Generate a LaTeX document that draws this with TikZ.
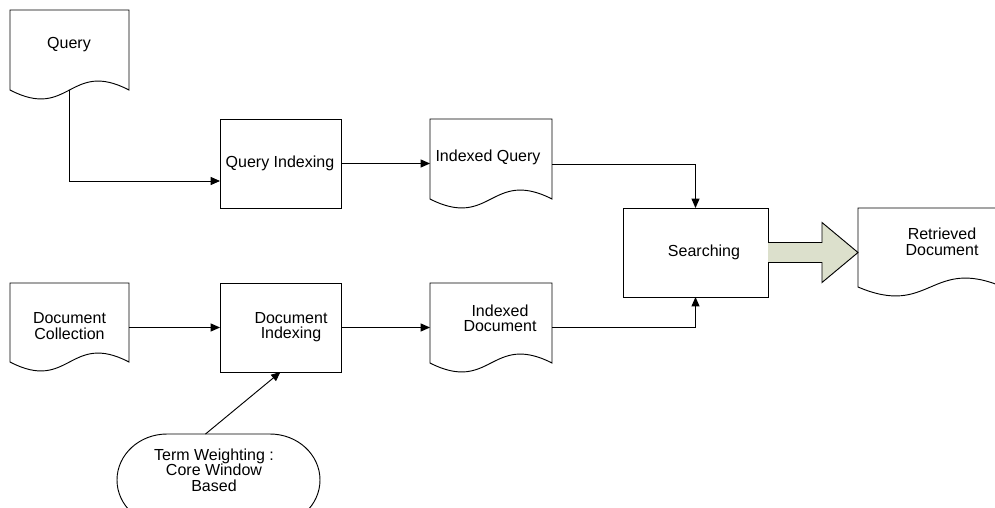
\documentclass[tikz,border=0pt]{standalone}
\usepackage{fontspec}
\setmainfont{Liberation Sans}
\usetikzlibrary{calc,arrows.meta}
\definecolor{arrowfill}{HTML}{DCE0CC}
\tikzset{
  line/.style={draw=black, line width=0.7pt},
  conn/.style={line, -{Triangle[length=7pt,width=6pt]}},
  area/.style={draw=none, inner sep=0, outer sep=0},
  txt/.style={font=\fontsize{12pt}{11.6pt}\selectfont, align=center, inner sep=0},
  boxshape/.style={line, fill=white, inner sep=0, outer sep=0},
}
\newcommand\docoutline[1]{%
  \draw[line, fill=white] (#1.north west) -- (#1.north east) -- (#1.south east)
    .. controls ($(#1.south)+(0,-31)$) and ($(#1.south)+(0,31)$) .. (#1.south west) -- cycle;}
\begin{document}
\begin{tikzpicture}[x=0.75pt, y=-0.75pt]
\useasboundingbox (0,0) rectangle (995,507);
\fill[white] (0,0) rectangle (995,507);
\clip (0,0) rectangle (995,507);

% shape areas
\node[area, minimum width=89.25pt, minimum height=60pt] (query) at (69.5,50) {};
\node[boxshape, minimum width=90.75pt, minimum height=66.75pt] (qidx) at (280.5,163.5) {};
\node[area, minimum width=91.5pt, minimum height=60pt] (iq) at (491,159) {};
\node[boxshape, minimum width=108.75pt, minimum height=66.75pt] (search) at (695.5,252.5) {};
\node[area, minimum width=108.75pt, minimum height=59.25pt] (retr) at (930.5,247.5) {};
\node[area, minimum width=89.25pt, minimum height=59.25pt] (dc) at (69.5,322.5) {};
\node[boxshape, minimum width=90.75pt, minimum height=66.75pt] (didx) at (280.5,327.5) {};
\node[area, minimum width=91.5pt, minimum height=60pt] (idoc) at (491,323) {};
\node[area, minimum width=152.25pt, minimum height=69pt] (term) at (218.5,480) {};

% document outlines
\docoutline{query}
\docoutline{iq}
\docoutline{retr}
\docoutline{dc}
\docoutline{idoc}

% terminator outline
\draw[line, fill=white] ($(term.north west)+(50,0)$) -- ($(term.north east)+(-50,0)$)
  arc[start angle=-90, end angle=90, x radius=50, y radius=46]
  -- ($(term.south west)+(50,0)$)
  arc[start angle=90, end angle=270, x radius=50, y radius=46] -- cycle;

% texts
\node[txt] (queryT) at (69,45) {Query};
\node[txt] (qidxT) at (280,163) {Query Indexing};
\node[txt] (iqT) at (488,157) {Indexed Query};
\node[txt] (searchT) at (704,252) {Searching};
\node[txt] (retrT) at (942,242) {Retrieved\\Document};
\node[txt] (dcT) at (69.5,326) {Document\\Collection};
\node[txt] (didxT) at (291,327) {Document\\Indexing};
\node[txt] (idocT) at (500,318.5) {Indexed\\Document};
\node[txt] (termT) at (214,470) {Term Weighting :\\Core Window\\Based};

% connectors
\draw[conn] (query.south) |- ($(qidx.west)+(0,17.5)$);
\draw[conn] (qidx.east) -- (qidx.east -| iq.west);
\draw[conn] ($(iq.east)+(0,5)$) -| (search.north);
\draw[conn] (dc.east |- didx.west) -- (didx.west);
\draw[conn] (didx.east) -- (didx.east -| idoc.west);
\draw[conn] (idoc.east |- didx.east) -| (search.south);
\draw[conn] ($(term.north)+(-13,0)$) -- (didx.south);

% big arrow
\draw[line, fill=arrowfill] ($(search.east)+(0,-10)$) -- ($(search.east)+(54,-10)$)
  -- ($(search.east)+(54,-30)$) -- (search.east -| retr.west)
  -- ($(search.east)+(54,30)$) -- ($(search.east)+(54,10)$)
  -- ($(search.east)+(0,10)$);
\end{tikzpicture}
\end{document}
